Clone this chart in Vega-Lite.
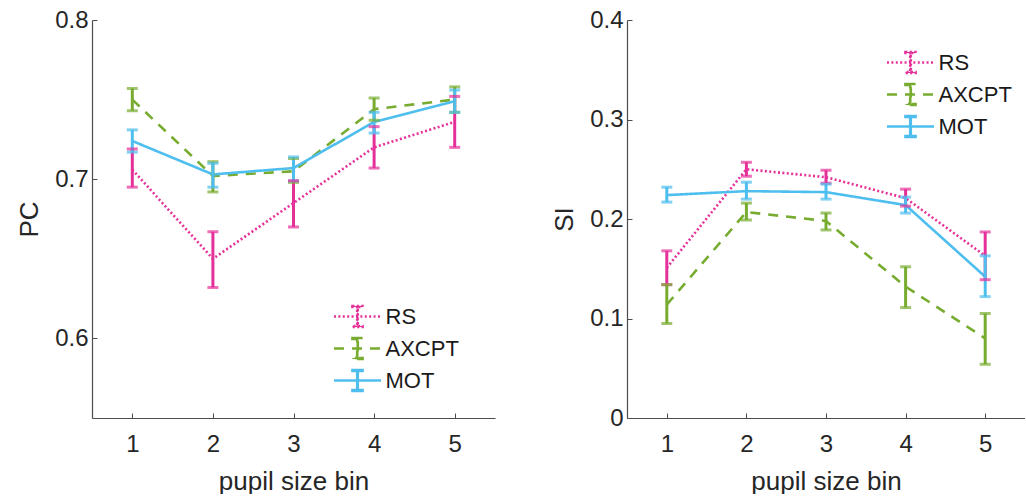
{
  "$schema": "https://vega.github.io/schema/vega-lite/v6.json",
  "padding": {"left": 16, "top": 8, "right": 0, "bottom": 0},
  "background": "white",
  "config": {
    "view": {"stroke": null},
    "font": "Liberation Sans",
    "axis": {
      "grid": false,
      "domainColor": "#4d4d4d",
      "domainWidth": 1.2,
      "tickColor": "#4d4d4d",
      "tickSize": -5,
      "tickWidth": 1,
      "labelFont": "Liberation Sans",
      "labelFontSize": 24,
      "labelColor": "#262626",
      "titleFont": "Liberation Sans",
      "titleFontSize": 26,
      "titleFontWeight": "normal",
      "titleColor": "#262626"
    },
    "legend": {
      "labelFont": "Liberation Sans",
      "labelFontSize": 22,
      "labelColor": "#1a1a1a"
    }
  },
  "datasets": {
    "pc": [
      {"series": "RS", "bin": 1, "mean": 0.706, "lo": 0.695, "hi": 0.719},
      {"series": "RS", "bin": 2, "mean": 0.650, "lo": 0.632, "hi": 0.667},
      {"series": "RS", "bin": 3, "mean": 0.685, "lo": 0.670, "hi": 0.699},
      {"series": "RS", "bin": 4, "mean": 0.720, "lo": 0.707, "hi": 0.733},
      {"series": "RS", "bin": 5, "mean": 0.736, "lo": 0.720, "hi": 0.752},
      {"series": "AXCPT", "bin": 1, "mean": 0.750, "lo": 0.743, "hi": 0.757},
      {"series": "AXCPT", "bin": 2, "mean": 0.702, "lo": 0.692, "hi": 0.711},
      {"series": "AXCPT", "bin": 3, "mean": 0.705, "lo": 0.698, "hi": 0.713},
      {"series": "AXCPT", "bin": 4, "mean": 0.744, "lo": 0.737, "hi": 0.751},
      {"series": "AXCPT", "bin": 5, "mean": 0.750, "lo": 0.742, "hi": 0.758},
      {"series": "MOT", "bin": 1, "mean": 0.724, "lo": 0.717, "hi": 0.731},
      {"series": "MOT", "bin": 2, "mean": 0.703, "lo": 0.695, "hi": 0.710},
      {"series": "MOT", "bin": 3, "mean": 0.707, "lo": 0.699, "hi": 0.714},
      {"series": "MOT", "bin": 4, "mean": 0.736, "lo": 0.729, "hi": 0.742},
      {"series": "MOT", "bin": 5, "mean": 0.749, "lo": 0.742, "hi": 0.756}
    ],
    "si": [
      {"series": "RS", "bin": 1, "mean": 0.151, "lo": 0.134, "hi": 0.168},
      {"series": "RS", "bin": 2, "mean": 0.250, "lo": 0.243, "hi": 0.257},
      {"series": "RS", "bin": 3, "mean": 0.242, "lo": 0.236, "hi": 0.249},
      {"series": "RS", "bin": 4, "mean": 0.221, "lo": 0.213, "hi": 0.230},
      {"series": "RS", "bin": 5, "mean": 0.163, "lo": 0.139, "hi": 0.187},
      {"series": "AXCPT", "bin": 1, "mean": 0.114, "lo": 0.095, "hi": 0.134},
      {"series": "AXCPT", "bin": 2, "mean": 0.207, "lo": 0.199, "hi": 0.216},
      {"series": "AXCPT", "bin": 3, "mean": 0.198, "lo": 0.189, "hi": 0.206},
      {"series": "AXCPT", "bin": 4, "mean": 0.132, "lo": 0.111, "hi": 0.152},
      {"series": "AXCPT", "bin": 5, "mean": 0.080, "lo": 0.054, "hi": 0.105},
      {"series": "MOT", "bin": 1, "mean": 0.224, "lo": 0.217, "hi": 0.232},
      {"series": "MOT", "bin": 2, "mean": 0.228, "lo": 0.220, "hi": 0.237},
      {"series": "MOT", "bin": 3, "mean": 0.227, "lo": 0.220, "hi": 0.235},
      {"series": "MOT", "bin": 4, "mean": 0.214, "lo": 0.206, "hi": 0.222},
      {"series": "MOT", "bin": 5, "mean": 0.142, "lo": 0.122, "hi": 0.163}
    ]
  },
  "resolve": {
    "scale": {"color": "independent", "strokeDash": "independent"},
    "legend": {"color": "independent", "strokeDash": "independent"}
  },
  "spacing": 56,
  "hconcat": [
    {
      "width": 403,
      "height": 398,
      "data": {"name": "pc"},
      "encoding": {
        "x": {
          "field": "bin", "type": "quantitative",
          "scale": {"domain": [0.5, 5.5], "nice": false, "zero": false},
          "axis": {"values": [1, 2, 3, 4, 5], "format": "d", "title": "pupil size bin", "labelPadding": 19, "titlePadding": 12}
        }
      },
      "layer": [
        {
          "mark": {"type": "line", "strokeWidth": 2.6},
          "encoding": {
            "y": {
              "field": "mean", "type": "quantitative",
              "scale": {"domain": [0.55, 0.8], "nice": false, "zero": false},
              "axis": {"values": [0.6, 0.7, 0.8], "format": ".1f", "title": "PC", "labelPadding": 9, "titlePadding": 12}
            },
            "color": {
              "field": "series", "type": "nominal",
              "scale": {"domain": ["RS", "AXCPT", "MOT"], "range": ["#E5309A", "#77AC30", "#4DBEEE"]},
              "legend": {
                "title": null, "orient": "none", "legendX": 250, "legendY": 281,
                "symbolType": "M-1.68,0H1.68M-0.36,-0.75H0.36V-0.68H0.02V0.68H0.36V0.75H-0.36V0.68H-0.02V-0.68H-0.36Z",
                "symbolSize": 784, "symbolStrokeWidth": 2.6, "labelOffset": 12.5, "rowPadding": -2,
                "encode": {"symbols": {"update": {"fill": [
                  {"test": "datum.value === 'RS'", "value": "#E5309A"},
                  {"test": "datum.value === 'AXCPT'", "value": "#77AC30"},
                  {"value": "#4DBEEE"}
                ]}}}
              }
            },
            "strokeDash": {
              "field": "series", "type": "nominal",
              "scale": {"domain": ["RS", "AXCPT", "MOT"], "range": [[2, 2.4], [10, 8], [1, 0]]},
              "legend": {
                "title": null, "orient": "none", "legendX": 250, "legendY": 281,
                "symbolType": "M-1.68,0H1.68M-0.36,-0.75H0.36V-0.68H0.02V0.68H0.36V0.75H-0.36V0.68H-0.02V-0.68H-0.36Z",
                "symbolSize": 784, "symbolStrokeWidth": 2.6, "labelOffset": 12.5, "rowPadding": -2
              }
            }
          }
        },
        {
          "mark": {"type": "rule", "strokeWidth": 3},
          "encoding": {
            "y": {"field": "lo", "type": "quantitative"},
            "y2": {"field": "hi"},
            "color": {"field": "series", "type": "nominal"}
          }
        },
        {
          "mark": {"type": "tick", "orient": "horizontal", "size": 11, "thickness": 3},
          "encoding": {
            "y": {"field": "lo", "type": "quantitative"},
            "color": {"field": "series", "type": "nominal"}
          }
        },
        {
          "mark": {"type": "tick", "orient": "horizontal", "size": 11, "thickness": 3},
          "encoding": {
            "y": {"field": "hi", "type": "quantitative"},
            "color": {"field": "series", "type": "nominal"}
          }
        }
      ]
    },
    {
      "width": 398,
      "height": 398,
      "data": {"name": "si"},
      "encoding": {
        "x": {
          "field": "bin", "type": "quantitative",
          "scale": {"domain": [0.5, 5.5], "nice": false, "zero": false},
          "axis": {"values": [1, 2, 3, 4, 5], "format": "d", "title": "pupil size bin", "labelPadding": 19, "titlePadding": 12}
        }
      },
      "layer": [
        {
          "mark": {"type": "line", "strokeWidth": 2.6},
          "encoding": {
            "y": {
              "field": "mean", "type": "quantitative",
              "scale": {"domain": [0, 0.4], "nice": false, "zero": false},
              "axis": {"values": [0, 0.1, 0.2, 0.3, 0.4], "format": "~g", "title": "SI", "labelPadding": 9, "titlePadding": 12}
            },
            "color": {
              "field": "series", "type": "nominal",
              "scale": {"domain": ["RS", "AXCPT", "MOT"], "range": ["#E5309A", "#77AC30", "#4DBEEE"]},
              "legend": {
                "title": null, "orient": "none", "legendX": 268, "legendY": 27,
                "symbolType": "M-1.68,0H1.68M-0.36,-0.75H0.36V-0.68H0.02V0.68H0.36V0.75H-0.36V0.68H-0.02V-0.68H-0.36Z",
                "symbolSize": 784, "symbolStrokeWidth": 2.6, "labelOffset": 12.5, "rowPadding": -2,
                "encode": {"symbols": {"update": {"fill": [
                  {"test": "datum.value === 'RS'", "value": "#E5309A"},
                  {"test": "datum.value === 'AXCPT'", "value": "#77AC30"},
                  {"value": "#4DBEEE"}
                ]}}}
              }
            },
            "strokeDash": {
              "field": "series", "type": "nominal",
              "scale": {"domain": ["RS", "AXCPT", "MOT"], "range": [[2, 2.4], [10, 8], [1, 0]]},
              "legend": {
                "title": null, "orient": "none", "legendX": 268, "legendY": 27,
                "symbolType": "M-1.68,0H1.68M-0.36,-0.75H0.36V-0.68H0.02V0.68H0.36V0.75H-0.36V0.68H-0.02V-0.68H-0.36Z",
                "symbolSize": 784, "symbolStrokeWidth": 2.6, "labelOffset": 12.5, "rowPadding": -2
              }
            }
          }
        },
        {
          "mark": {"type": "rule", "strokeWidth": 3},
          "encoding": {
            "y": {"field": "lo", "type": "quantitative"},
            "y2": {"field": "hi"},
            "color": {"field": "series", "type": "nominal"}
          }
        },
        {
          "mark": {"type": "tick", "orient": "horizontal", "size": 11, "thickness": 3},
          "encoding": {
            "y": {"field": "lo", "type": "quantitative"},
            "color": {"field": "series", "type": "nominal"}
          }
        },
        {
          "mark": {"type": "tick", "orient": "horizontal", "size": 11, "thickness": 3},
          "encoding": {
            "y": {"field": "hi", "type": "quantitative"},
            "color": {"field": "series", "type": "nominal"}
          }
        }
      ]
    }
  ]
}
